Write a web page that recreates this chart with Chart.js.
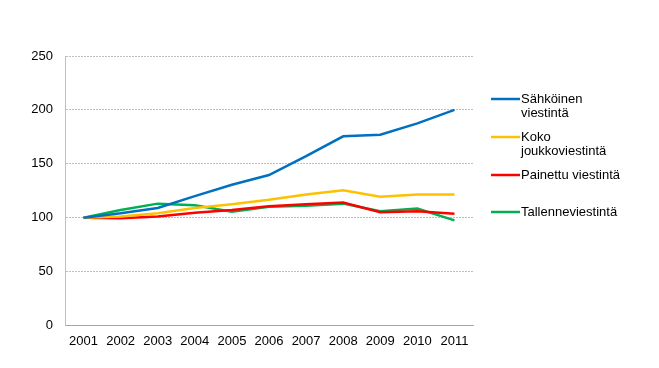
<!DOCTYPE html>
<html>
<head>
<meta charset="utf-8">
<script src="https://cdn.jsdelivr.net/npm/chart.js@4"></script>
<style>
  html, body { margin: 0; padding: 0; background: #fff; }
  #wrap { width: 659px; height: 368px; }
</style>
</head>
<body>
<div id="wrap"><canvas id="viestintaChart" width="659" height="368"></canvas></div>
<script>
let vuodet = ["2001", "2002", "2003", "2004", "2005", "2006", "2007", "2008", "2009", "2010", "2011"];

let sahkoinen = [100, 104, 109, 120, 130.5, 139.5, 157, 175.5, 177, 187.5, 200];
let kokoJoukko = [100, 101, 104, 109, 112.5, 116.5, 121.5, 125.5, 119.5, 121.5, 121.5];
let painettu = [100, 99.5, 101, 104.5, 107, 110.5, 112.5, 114, 105, 106, 103.5];
let tallenne = [100, 107, 113, 111.5, 105.5, 110, 111, 113, 106, 108.5, 97.5];

let sarjaNimet = [["Sähköinen", "viestintä"], ["Koko", "joukkoviestintä"], ["Painettu viestintä"], ["Tallenneviestintä"]];
let varit = ["#0070C0", "#FFC000", "#FF0000", "#00B050"];

let fontti = "Arial, 'Liberation Sans', sans-serif";

// legenda piirretään itse, koska tekstit rivittyvät
let omaLegenda = {
    id: "omaLegenda",
    afterDraw(chart) {
        let c = chart.ctx;
        let rivit = [99, 137, 175, 212];
        c.save();
        c.font = "13px " + fontti;
        c.fillStyle = "#000";
        c.textBaseline = "middle";
        chart.data.datasets.forEach((ds, i) => {
            let y = rivit[i];
            c.strokeStyle = ds.borderColor;
            c.lineWidth = 2.5;
            c.beginPath();
            c.moveTo(491, y);
            c.lineTo(520, y);
            c.stroke();
            sarjaNimet[i].forEach((teksti, j) => {
                c.fillText(teksti, 521, y + j * 14.5);
            });
        });
        c.restore();
    }
};

let ctx = document.getElementById("viestintaChart").getContext("2d");

let datasets = [sahkoinen, kokoJoukko, painettu, tallenne].map((arvot, i) => ({
    label: sarjaNimet[i].join(" "),
    data: arvot,
    borderColor: varit[i],
    backgroundColor: varit[i],
    borderWidth: 2.5,
    pointRadius: 0,
    tension: 0,
    fill: false
}));

let kaavio = new Chart(ctx, {
    type: "line",
    data: { labels: vuodet, datasets: datasets },
    options: {
        responsive: false,
        animation: false,
        layout: { padding: { top: 56, right: 186, bottom: 19, left: 0 } },
        plugins: {
            legend: { display: false },
            tooltip: { enabled: false }
        },
        scales: {
            x: {
                offset: true,
                grid: { display: false },
                border: { display: true, color: "#a6a6a6", width: 1 },
                ticks: { color: "#000", font: { size: 13, family: fontti }, padding: 0, maxRotation: 0 }
            },
            y: {
                min: 0,
                max: 250,
                afterFit(scale) { scale.width = 65; },
                ticks: { stepSize: 50, color: "#000", font: { size: 13, family: fontti }, padding: 12 },
                grid: { color: "#bfbfbf", lineWidth: 1, drawTicks: false },
                border: { display: true, color: "#bfbfbf", dash: [2, 1] }
            }
        }
    },
    plugins: [omaLegenda]
});
</script>
</body>
</html>
